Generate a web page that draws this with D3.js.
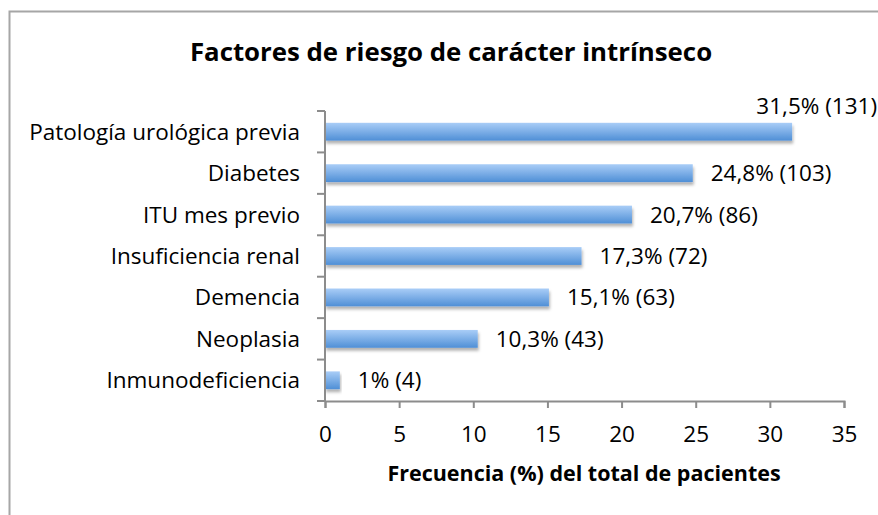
<!DOCTYPE html>
<html>
<head>
<meta charset="utf-8">
<script src="https://cdn.jsdelivr.net/npm/d3@7"></script>
<style>
  body { margin: 0; background: #fff; }
  text { font-family: "Open Sans", "DejaVu Sans", sans-serif; fill: #000; }
</style>
</head>
<body>
<script>
// Datos del gráfico
var categories = ["Patología urológica previa", "Diabetes", "ITU mes previo",
  "Insuficiencia renal", "Demencia", "Neoplasia", "Inmunodeficiencia"];
var values = [31.5, 24.8, 20.7, 17.3, 15.1, 10.3, 1];
var labels = ["31,5% (131)", "24,8% (103)", "20,7% (86)", "17,3% (72)",
  "15,1% (63)", "10,3% (43)", "1% (4)"];
var xTicks = [0, 5, 10, 15, 20, 25, 30, 35];

var width = 878, height = 515;
var plotLeft = 325, plotRight = 844, plotTop = 111, plotBottom = 401;

var svg = d3.select("body").append("svg")
  .attr("width", width)
  .attr("height", height);

// gradiente de las barras
var defs = svg.append("defs");
var grad = defs.append("linearGradient")
  .attr("id", "barGrad")
  .attr("x1", 0).attr("y1", 0).attr("x2", 0).attr("y2", 1);
grad.append("stop").attr("offset", "0%").attr("stop-color", "#a9cdf7");
grad.append("stop").attr("offset", "100%").attr("stop-color", "#4f8fd6");

var shadow = defs.append("filter").attr("id", "shadow")
  .attr("x", "-5%").attr("y", "-20%").attr("width", "115%").attr("height", "160%");
shadow.append("feDropShadow")
  .attr("dx", 1).attr("dy", 3).attr("stdDeviation", 1.5)
  .attr("flood-color", "#000").attr("flood-opacity", 0.3);

// marco
svg.append("path")
  .attr("d", "M9.5," + height + "V11.5H" + width)
  .attr("fill", "none")
  .attr("stroke", "#a6a6a6")
  .attr("stroke-width", 2);

var x = d3.scaleLinear().domain([0, 35]).range([plotLeft, plotRight]);
var y = d3.scaleBand().domain(categories).range([plotTop, plotBottom]).paddingInner(0.57).paddingOuter(0.285);

// titulo
svg.append("text")
  .attr("x", 451).attr("y", 61)
  .attr("text-anchor", "middle")
  .style("font-size", "25.8px")
  .style("font-weight", "bold")
  .text("Factores de riesgo de carácter intrínseco");

// barras
svg.selectAll("rect.bar")
  .data(values)
  .enter()
  .append("rect")
  .attr("class", "bar")
  .attr("x", x(0))
  .attr("y", function(d, i) { return y(categories[i]); })
  .attr("width", function(d) { return x(d) - x(0); })
  .attr("height", y.bandwidth())
  .attr("fill", "url(#barGrad)")
  .attr("filter", "url(#shadow)");

// etiquetas de valores
svg.selectAll("text.val")
  .data(values)
  .enter()
  .append("text")
  .attr("class", "val")
  .attr("x", function(d, i) { return i == 0 ? x(d) + 85 : x(d) + 18; })
  .attr("y", function(d, i) { return i == 0 ? y(categories[i]) - 9 : y(categories[i]) + y.bandwidth() / 2 + 8; })
  .attr("text-anchor", function(d, i) { return i == 0 ? "end" : "start"; })
  .style("font-size", "22.5px")
  .text(function(d, i) { return labels[i]; });

// eje x
var xAxis = svg.append("g")
  .attr("transform", "translate(0," + plotBottom + ")")
  .call(d3.axisBottom(x).tickValues(xTicks).tickSize(7).tickPadding(18));
xAxis.selectAll("text").style("font-size", "22.5px").attr("fill", "#000");
xAxis.selectAll("line, path").attr("stroke", "#8c8c8c").attr("stroke-width", 2);

// eje y
var yAxis = svg.append("g")
  .attr("transform", "translate(" + plotLeft + ",0)");
var yBounds = d3.range(categories.length + 1).map(function(i) { return plotTop + i * (plotBottom - plotTop) / categories.length; });
yAxis.append("line")
  .attr("x1", 0).attr("x2", 0).attr("y1", plotTop).attr("y2", plotBottom)
  .attr("stroke", "#8c8c8c").attr("stroke-width", 2);
yAxis.selectAll("line.tick")
  .data(yBounds)
  .enter()
  .append("line")
  .attr("class", "tick")
  .attr("x1", -8).attr("x2", 0)
  .attr("y1", function(d) { return d; }).attr("y2", function(d) { return d; })
  .attr("stroke", "#8c8c8c").attr("stroke-width", 2);
yAxis.selectAll("text")
  .data(categories)
  .enter()
  .append("text")
  .attr("x", -25)
  .attr("y", function(d) { return y(d) + y.bandwidth() / 2 + 8; })
  .attr("text-anchor", "end")
  .style("font-size", "22.5px")
  .text(function(d) { return d; });

// titulo eje x
svg.append("text")
  .attr("x", 584).attr("y", 481)
  .attr("text-anchor", "middle")
  .style("font-size", "21.5px")
  .style("font-weight", "bold")
  .text("Frecuencia (%) del total de pacientes");
</script>
</body>
</html>
